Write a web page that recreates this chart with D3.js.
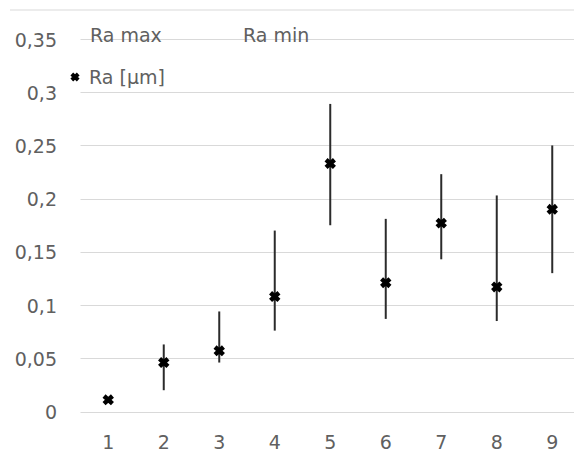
<!DOCTYPE html>
<html>
<head>
<meta charset="utf-8">
<script src="https://cdn.jsdelivr.net/npm/d3@7"></script>
<style>
  html, body { margin: 0; padding: 0; background: #fff; }
  svg { display: block; }
  text { font-family: "DejaVu Sans", sans-serif; fill: #606060; }
</style>
</head>
<body>
<svg id="chart" width="574" height="455"></svg>
<script>
const categories = ["1", "2", "3", "4", "5", "6", "7", "8", "9"];
const raValues = [0.011, 0.046, 0.057, 0.108, 0.233, 0.121, 0.177, 0.117, 0.190];
const raMax = [null, 0.063, 0.094, 0.170, 0.289, 0.181, 0.223, 0.203, 0.250];
const raMin = [null, 0.020, 0.046, 0.076, 0.175, 0.087, 0.143, 0.085, 0.130];
const yTicks = [0, 0.05, 0.1, 0.15, 0.2, 0.25, 0.3, 0.35];
const yTickLabels = ["0", "0,05", "0,1", "0,15", "0,2", "0,25", "0,3", "0,35"];
const legendLabels = ["Ra max", "Ra min", "Ra [µm]"];

const svg = d3.select("#chart");
const W = 574, H = 455;
const plot = { left: 80.5, right: 580, top: 39, bottom: 411.5 };
const FS = 19;

const x = d3.scaleBand().domain(categories).range([plot.left, plot.right]);
const y = d3.scaleLinear().domain([0, 0.35]).range([plot.bottom, plot.top]);

// top border line
svg.append("line")
  .attr("x1", 10).attr("x2", W).attr("y1", 10).attr("y2", 10)
  .attr("stroke", "#e6e6e6").attr("stroke-width", 1.5);

// gridlines
svg.append("g").selectAll("line").data(yTicks).join("line")
  .attr("x1", plot.left).attr("x2", W)
  .attr("y1", d => Math.round(y(d)) + 0.5).attr("y2", d => Math.round(y(d)) + 0.5)
  .attr("stroke", "#d9d9d9").attr("stroke-width", 1);

// y tick labels
svg.append("g").selectAll("text").data(yTicks).join("text")
  .attr("x", 57).attr("y", d => y(d) + 7.5)
  .attr("text-anchor", "end")
  .attr("font-size", FS)
  .text((d, i) => yTickLabels[i]);

// x tick labels
svg.append("g").selectAll("text").data(categories).join("text")
  .attr("x", d => x(d) + x.bandwidth() / 2).attr("y", 449)
  .attr("text-anchor", "middle")
  .attr("font-size", FS)
  .text(d => d);

// error bars
const cx = d => x(d) + x.bandwidth() / 2;
svg.append("g").selectAll("line").data(categories.filter((c, i) => raMax[i] != null)).join("line")
  .attr("x1", cx).attr("x2", cx)
  .attr("y1", d => y(raMax[categories.indexOf(d)]))
  .attr("y2", d => y(raMin[categories.indexOf(d)]))
  .attr("stroke", "#2b2b2b").attr("stroke-width", 2);

// markers
const markerPath = "M-4.2,-3.8L4.2,3.8M-4.2,3.8L4.2,-3.8";
svg.append("g").selectAll("path").data(categories).join("path")
  .attr("transform", (d, i) => `translate(${cx(d)},${y(raValues[i])})`)
  .attr("d", markerPath)
  .attr("stroke", "#000").attr("stroke-width", 4.5).attr("fill", "none");

// legend
svg.append("text").attr("x", 90).attr("y", 42)
  .attr("font-size", FS).text(legendLabels[0]);
svg.append("text").attr("x", 243).attr("y", 42)
  .attr("font-size", FS).text(legendLabels[1]);
svg.append("path").attr("transform", "translate(75,77)")
  .attr("d", "M-3.2,-3L3.2,3M-3.2,3L3.2,-3")
  .attr("stroke", "#000").attr("stroke-width", 4).attr("fill", "none");
svg.append("text").attr("x", 89).attr("y", 84)
  .attr("font-size", FS).text(legendLabels[2]);
</script>
</body>
</html>
